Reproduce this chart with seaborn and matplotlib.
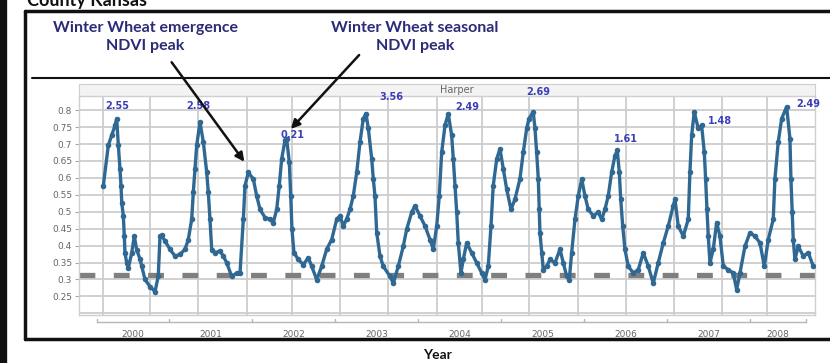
import matplotlib
matplotlib.use("Agg")
import matplotlib.pyplot as plt
import matplotlib.transforms as mtransforms
from matplotlib.lines import Line2D
from matplotlib.patches import FancyArrowPatch
import pandas as pd
import seaborn as sns

sns.set_style("white")
plt.rcParams["font.family"] = ["Lato", "DejaVu Sans"]

# ---------------------------------------------------------------
# data (decimal year, NDVI)
# ---------------------------------------------------------------
year = [
    2000.205, 2000.265, 2000.306, 2000.346, 2000.366, 2000.386, 2000.406, 2000.418,
    2000.427, 2000.446, 2000.458, 2000.466, 2000.487, 2000.506, 2000.547, 2000.578,
    2000.607, 2000.647, 2000.667, 2000.707, 2000.767, 2000.828, 2000.867, 2000.888,
    2000.908, 2000.948, 2001.008, 2001.069, 2001.129, 2001.189, 2001.229, 2001.270,
    2001.289, 2001.310, 2001.330, 2001.370, 2001.410, 2001.451, 2001.470, 2001.490,
    2001.511, 2001.551, 2001.611, 2001.651, 2001.692, 2001.752, 2001.812,
    2001.852, 2001.892, 2001.912, 2001.952, 2002.012, 2002.053, 2002.093, 2002.153,
    2002.213, 2002.253, 2002.294, 2002.325, 2002.354, 2002.394, 2002.414, 2002.446,
    2002.463, 2002.478, 2002.502, 2002.554, 2002.614, 2002.675, 2002.716, 2002.776,
    2002.836, 2002.896, 2002.957, 2003.017, 2003.057, 2003.096, 2003.137, 2003.177,
    2003.217, 2003.258, 2003.298, 2003.337, 2003.370, 2003.398, 2003.439, 2003.458,
    2003.478, 2003.499, 2003.539, 2003.578,
    2003.659, 2003.699, 2003.759, 2003.819, 2003.860, 2003.920, 2003.960, 2004.020,
    2004.081, 2004.141, 2004.181, 2004.222, 2004.253, 2004.282, 2004.322, 2004.361,
    2004.402, 2004.422, 2004.442, 2004.463, 2004.482, 2004.514, 2004.542, 2004.583,
    2004.643, 2004.704, 2004.764, 2004.804, 2004.843, 2004.876, 2004.903, 2004.945,
    2004.984, 2005.024, 2005.065, 2005.117, 2005.165, 2005.225, 2005.265, 2005.306,
    2005.334,
    2005.385, 2005.406, 2005.426, 2005.446, 2005.458, 2005.466, 2005.487, 2005.506,
    2005.547, 2005.587, 2005.647, 2005.707, 2005.747, 2005.788, 2005.819, 2005.848,
    2005.888, 2005.928, 2005.969, 2006.008, 2006.048, 2006.108, 2006.169, 2006.210,
    2006.249, 2006.289, 2006.330, 2006.370, 2006.398, 2006.422, 2006.439, 2006.463,
    2006.490, 2006.530, 2006.590, 2006.651, 2006.711, 2006.771, 2006.831, 2006.891,
    2006.952, 2007.012, 2007.072,
    2007.093, 2007.132, 2007.193, 2007.253, 2007.273, 2007.294, 2007.325, 2007.373,
    2007.414, 2007.446, 2007.462, 2007.478, 2007.494, 2007.514, 2007.554, 2007.595,
    2007.635, 2007.675, 2007.735, 2007.795, 2007.836, 2007.876, 2007.936, 2007.996,
    2008.056, 2008.117, 2008.169, 2008.217, 2008.277, 2008.297, 2008.337, 2008.378,
    2008.438, 2008.478, 2008.490, 2008.506, 2008.518, 2008.538, 2008.578, 2008.639,
    2008.699, 2008.759,
]
ndvi = [
    0.577, 0.696, 0.726, 0.755, 0.775, 0.696, 0.626, 0.577,
    0.527, 0.488, 0.428, 0.378, 0.349, 0.334, 0.378, 0.428,
    0.388, 0.360, 0.340, 0.300, 0.279, 0.264, 0.310, 0.428,
    0.430, 0.414, 0.389, 0.369, 0.374, 0.389, 0.418, 0.478,
    0.557, 0.626, 0.696, 0.765, 0.706, 0.616, 0.557, 0.478,
    0.388, 0.379, 0.384, 0.369, 0.349, 0.309, 0.319,
    0.319, 0.478, 0.577, 0.616, 0.597, 0.547, 0.507, 0.483,
    0.478, 0.468, 0.507, 0.577, 0.656, 0.711, 0.716, 0.646,
    0.547, 0.448, 0.379, 0.359, 0.344, 0.364, 0.339, 0.299,
    0.339, 0.389, 0.418, 0.478, 0.488, 0.458, 0.478, 0.507,
    0.547, 0.616, 0.706, 0.775, 0.790, 0.746, 0.656, 0.597,
    0.547, 0.438, 0.369, 0.339,
    0.309, 0.289, 0.339, 0.398, 0.448, 0.498, 0.518, 0.488,
    0.458, 0.418, 0.389, 0.458, 0.547, 0.676, 0.755, 0.790,
    0.726, 0.656, 0.577, 0.498, 0.408, 0.319, 0.359, 0.408,
    0.379, 0.349, 0.319, 0.299, 0.339, 0.458, 0.577, 0.656,
    0.686, 0.627, 0.567, 0.507, 0.537, 0.597, 0.676, 0.746,
    0.775,
    0.795, 0.746, 0.676, 0.597, 0.507, 0.438, 0.379, 0.329,
    0.339, 0.359, 0.349, 0.389, 0.349, 0.309, 0.299, 0.379,
    0.478, 0.547, 0.597, 0.547, 0.507, 0.488, 0.498, 0.478,
    0.507, 0.547, 0.617, 0.666, 0.681, 0.617, 0.537, 0.458,
    0.389, 0.339, 0.319, 0.329, 0.379, 0.339, 0.289, 0.349,
    0.408, 0.458, 0.518,
    0.537, 0.458, 0.428, 0.478, 0.617, 0.726, 0.795, 0.746,
    0.755, 0.676, 0.597, 0.508, 0.428, 0.349, 0.389, 0.468,
    0.428, 0.339, 0.329, 0.319, 0.270, 0.319, 0.398, 0.438,
    0.428, 0.408, 0.339, 0.418, 0.478, 0.597, 0.706, 0.775,
    0.810, 0.716, 0.597, 0.498, 0.418, 0.359, 0.398, 0.369,
    0.379, 0.339,
]

# peak labels (text, year, NDVI position)
peak_text = ["2.55", "2.58", "0.21", "3.56", "2.49", "2.69", "1.61", "1.48", "2.49"]
peak_year = [2000.37, 2001.35, 2002.49, 2003.67, 2004.59, 2005.44, 2006.50, 2007.64, 2008.70]
peak_ndvi = [0.812, 0.812, 0.726, 0.840, 0.810, 0.853, 0.714, 0.767, 0.818]

baseline = 0.314
y_ticks = [0.25, 0.3, 0.35, 0.4, 0.45, 0.5, 0.55, 0.6, 0.65, 0.7, 0.75, 0.8]
y_labels = ["0.25", "0.3", "0.35", "0.4", "0.45", "0.5", "0.55", "0.6", "0.65", "0.7", "0.75", "0.8"]
year_bounds = [2000.125, 2001, 2002, 2003, 2004, 2005, 2006, 2007, 2008, 2008.67]
year_labels = ["2000", "2001", "2002", "2003", "2004", "2005", "2006", "2007", "2008"]
v_grid = [2000.198, 2000.767, 2001.346, 2001.933, 2002.478, 2003.057, 2003.635,
          2004.222, 2004.764, 2005.337, 2005.920, 2006.502, 2007.080, 2007.655, 2008.198]

df = pd.DataFrame({"year": year, "ndvi": ndvi})

W, H = 830, 363
fig = plt.figure(figsize=(W / 100, H / 100), dpi=100)


def fx(px):
    return px / W


def fy(py):
    return 1 - py / H


# "Harper" header strip (drawn under the main axes so peak labels sit on top)
hdr = fig.add_axes([fx(79), fy(96), fx(815) - fx(79), 12 / H])
hdr.set_zorder(1)
hdr.set_facecolor("#f3f3f3")
hdr.set_xticks([])
hdr.set_yticks([])
for s in hdr.spines.values():
    s.set_color("#cfcfcf")
hdr.text(0.514, 0.5, "Harper", ha="center", va="center", fontsize=7,
         color="#666666", family="DejaVu Sans")

ax = fig.add_axes([fx(79), fy(315), fx(815) - fx(79), (315 - 96) / H])
ax.set_zorder(3)

dot_color = "#2f6892"
sns.lineplot(data=df, x="year", y="ndvi", ax=ax, color=dot_color, lw=2.4, zorder=3)
sns.scatterplot(data=df, x="year", y="ndvi", ax=ax, color=dot_color, s=16,
                linewidth=0, zorder=4)

ax.axhline(baseline, color="#7f7f7f", lw=3.8, ls=(0, (3, 3.5)), zorder=2)

for t, xx, yy in zip(peak_text, peak_year, peak_ndvi):
    ax.text(xx, yy, t, ha="center", va="center", fontsize=7, fontweight="bold",
            color="#3b3fb8", family="DejaVu Sans", clip_on=False, zorder=6)

ax.set_xlim(1999.912, 2008.78)
ax.set_ylim(0.195, 0.842)
ax.set_yticks(y_ticks)
ax.set_yticklabels(y_labels, fontsize=6.5, color="#666666", family="DejaVu Sans")
ax.set_yticks([0.2], minor=True)

centers = [(a + b) / 2 for a, b in zip(year_bounds[:-1], year_bounds[1:])]
ax.set_xticks(centers)
ax.set_xticklabels(year_labels, fontsize=6.5, color="#666666", family="DejaVu Sans")
ax.set_xticks(v_grid, minor=True)
ax.tick_params(axis="x", which="both", length=0, pad=11)
ax.tick_params(axis="y", which="major", length=3, color="#aaaaaa", pad=2, left=True)
ax.tick_params(axis="y", which="minor", length=0)

ax.grid(False)
ax.grid(True, axis="y", which="both", color="#cdcdcd", lw=1.3)
ax.grid(True, axis="x", which="minor", color="#cdcdcd", lw=1.3)
for s in ax.spines.values():
    s.set_color("#cfcfcf")
    s.set_linewidth(1)
ax.set_xlabel("")
ax.set_ylabel("")

# year bracket under the axis
trans = mtransforms.blended_transform_factory(ax.transData, ax.transAxes)
ax.plot([year_bounds[0], year_bounds[-1]], [-0.030, -0.030], color="#b5b5b5",
        lw=1, transform=trans, clip_on=False)
for b in year_bounds:
    ax.plot([b, b], [-0.030, -0.018], color="#b5b5b5", lw=1, transform=trans,
            clip_on=False)

# frame lines of the slide
black = "#111111"
fig.add_artist(Line2D([fx(25), fx(830)], [fy(11), fy(11)], color=black, lw=2.5))
fig.add_artist(Line2D([fx(25), fx(25)], [fy(11), fy(339)], color=black, lw=2.5))
fig.add_artist(Line2D([fx(32), fx(830)], [fy(78), fy(78)], color=black, lw=1.5))
fig.add_artist(Line2D([fx(25), fx(830)], [fy(339), fy(339)], color=black, lw=2.5))
fig.add_artist(Line2D([fx(3), fx(3)], [0, 1], color=black, lw=6))

fig.text(fx(27), fy(6), "County Kansas", fontsize=13, fontweight="bold",
         color=black, ha="left", va="baseline")
fig.text(fx(437), fy(355), "Year", fontsize=10, fontweight="bold",
         color=black, ha="center", va="center")

navy = "#2b2b78"
fig.text(fx(145), fy(37), "Winter Wheat emergence\nNDVI peak", fontsize=11.5,
         fontweight="bold", color=navy, ha="center", va="center", linespacing=1.3)
fig.text(fx(415), fy(37), "Winter Wheat seasonal\nNDVI peak", fontsize=11.5,
         fontweight="bold", color=navy, ha="center", va="center", linespacing=1.3)

for (x0, y0), (x1, y1) in [((170, 60), (246, 164)), ((361, 53), (289, 131))]:
    fig.add_artist(FancyArrowPatch((fx(x0), fy(y0)), (fx(x1), fy(y1)),
                                   transform=fig.transFigure, arrowstyle="-|>",
                                   mutation_scale=13, color=black, lw=1.8, zorder=10))

fig.savefig("out.png", dpi=100)
